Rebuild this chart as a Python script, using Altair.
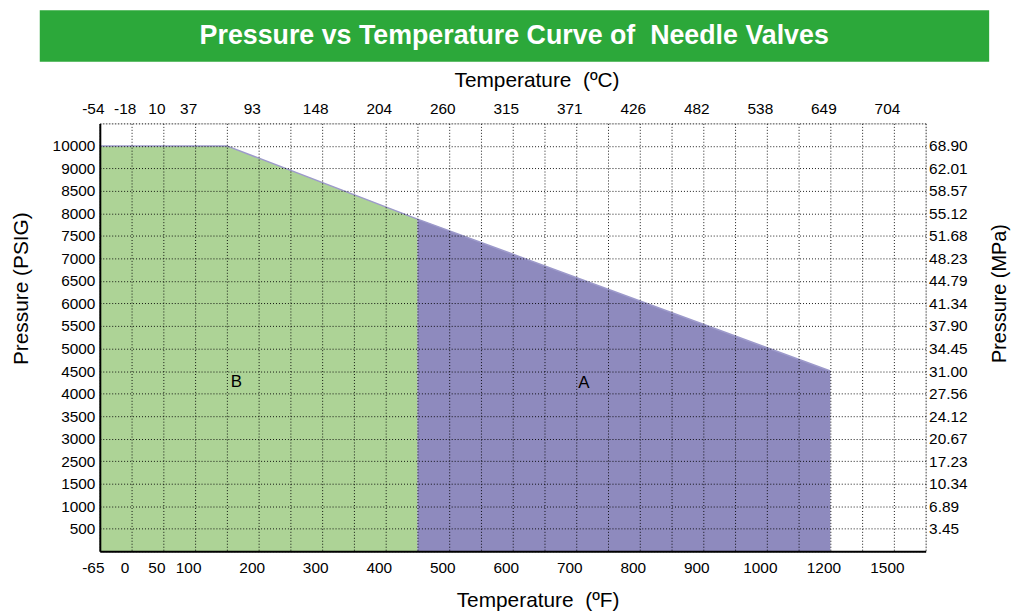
import json
import altair as alt
import pandas as pd

FONT = "Liberation Sans"
W, H = 832, 431

# ---- axis slots (Fahrenheit positions along the x axis) ----
F_slots = [-65, 0, 50, 100, 150, 200, 250, 300, 350, 400, 450, 500, 550, 600, 650,
           700, 750, 800, 850, 900, 950, 1000, 1100, 1200, 1350, 1500, 1650]
F_labels = ['-65', '0', '50', '100', '', '200', '', '300', '', '400', '', '500', '', '600', '',
            '700', '', '800', '', '900', '', '1000', '', '1200', '', '1500', '']
C_labels = ['-54', '-18', '10', '37', '', '93', '', '148', '', '204', '', '260', '', '315', '',
            '371', '', '426', '', '482', '', '538', '', '649', '', '704', '']

# ---- pressure rows ----
P_ticks = [0, 500, 1000, 1500, 2500, 3000, 3500, 4000, 4500, 5000, 5500, 6000, 6500,
           7000, 7500, 8000, 8500, 9000, 10000, 11000]
PSI_labels = ['', '500', '1000', '1500', '2500', '3000', '3500', '4000', '4500', '5000', '5500',
              '6000', '6500', '7000', '7500', '8000', '8500', '9000', '10000', '']
MPa_labels = ['', '3.45', '6.89', '10.34', '17.23', '20.67', '24.12', '27.56', '31.00', '34.45',
              '37.90', '41.34', '44.79', '48.23', '51.68', '55.12', '58.57', '62.01', '68.90', '']

# ---- series ----
green_F = [-65, 150, 450]
green_P = [10000, 10000, 7875]
purple_F = [450, 1200]
purple_P = [7875, 4500]
edge_F = [-65, 150, 450, 1200]
edge_P = [10000, 10000, 7875, 4500]
region_names = ['B', 'A']
region_F = [165, 712]
region_P = [4260, 4230]

GREEN = '#add396'
PURPLE = '#8e8abe'
EDGE = '#9d9acb'
BANNER = '#2ca83a'

green_df = pd.DataFrame({'F': green_F, 'P': green_P})
purple_df = pd.DataFrame({'F': purple_F, 'P': purple_P})
edge_df = pd.DataFrame({'F': edge_F, 'P': edge_P})
reg_df = pd.DataFrame({'F': region_F, 'P': region_P, 'name': region_names})

n_x = len(F_slots) - 1
n_y = len(P_ticks) - 1
xs = alt.Scale(domain=F_slots, range=[k * W / n_x for k in range(len(F_slots))], nice=False, zero=False)
ys = alt.Scale(domain=P_ticks, range=[H - k * H / n_y for k in range(len(P_ticks))], nice=False, zero=False)


def lbl(labels, values):
    return f"{json.dumps(labels)}[indexof({json.dumps(values)}, datum.value)]"


common = dict(labelFont=FONT, titleFont=FONT, labelColor='#000', titleColor='#000',
              titleFontWeight='normal', ticks=False, labelOverlap=False, labelFlush=False)
GRID = dict(gridColor='#000', gridDash=[1, 2], gridWidth=1, gridOpacity=0.9)

bottom_axis = alt.Axis(orient='bottom', values=F_slots, labelExpr=lbl(F_labels, F_slots),
                       title='Temperature \u00a0(ºF)', grid=True, domain=True, domainColor='#000',
                       domainWidth=2, labelFontSize=15.5, labelPadding=9, labelOffset=-7,
                       titleFontSize=21, titlePadding=14, titleX=441, zindex=1, **GRID, **common)
top_axis = alt.Axis(orient='top', values=F_slots, labelExpr=lbl(C_labels, F_slots),
                    title='Temperature \u00a0(ºC)', grid=False, domain=False,
                    labelFontSize=15.5, labelPadding=7, labelOffset=-7, titleFontSize=21,
                    titlePadding=11, titleX=440, **common)
left_axis = alt.Axis(orient='left', values=P_ticks, labelExpr=lbl(PSI_labels, P_ticks),
                     title='Pressure (PSIG)', grid=True, domain=True, domainColor='#000',
                     domainWidth=2, labelFontSize=15.5, labelPadding=5, titleFontSize=21,
                     titlePadding=21, titleY=166, zindex=1, **GRID, **common)
right_axis = alt.Axis(orient='right', values=P_ticks, labelExpr=lbl(MPa_labels, P_ticks),
                      title='Pressure (MPa)', grid=False, domain=False,
                      labelFontSize=15.5, labelPadding=3, titleFontSize=20, titlePadding=23,
                      titleY=171, titleAngle=270, titleBaseline='top', **common)

green = alt.Chart(green_df).mark_area(color=GREEN, opacity=1).encode(
    x=alt.X('F:Q', scale=xs, axis=bottom_axis),
    y=alt.Y('P:Q', scale=ys, axis=left_axis))
purple = alt.Chart(purple_df).mark_area(color=PURPLE, opacity=1).encode(
    x=alt.X('F:Q', scale=xs, axis=top_axis),
    y=alt.Y('P:Q', scale=ys, axis=right_axis))
edge = alt.Chart(edge_df).mark_line(color=EDGE, strokeWidth=1.5).encode(
    x=alt.X('F:Q', scale=xs, axis=None),
    y=alt.Y('P:Q', scale=ys, axis=None))
regions = alt.Chart(reg_df).mark_text(fontSize=17, font=FONT, color='#000',
                                      align='center', baseline='middle').encode(
    x=alt.X('F:Q', scale=xs, axis=None),
    y=alt.Y('P:Q', scale=ys, axis=None),
    text='name:N')

banner_df = pd.DataFrame({'t': ['Pressure vs Temperature Curve of \u00a0Needle Valves']})
banner = alt.Chart(banner_df).mark_rect(color=BANNER).encode(
    x=alt.value(-60.5), x2=alt.value(896), y=alt.value(-114), y2=alt.value(-62))
banner_text = alt.Chart(banner_df).mark_text(font=FONT, fontSize=27, fontWeight='bold',
                                             color='white', align='center', baseline='middle').encode(
    x=alt.value(417.5), y=alt.value(-88), text='t:N')

chart = alt.layer(green, purple, edge, regions, banner, banner_text).resolve_axis(
    x='independent', y='independent'
).properties(
    width=W, height=H,
    autosize=alt.AutoSizeParams(type='none'),
    padding={'left': 92.5, 'top': 114, 'right': 86, 'bottom': 58},
).configure_view(stroke=None).configure(background='white')

chart.save("out.html", embed_options={"renderer": "svg", "actions": False})
